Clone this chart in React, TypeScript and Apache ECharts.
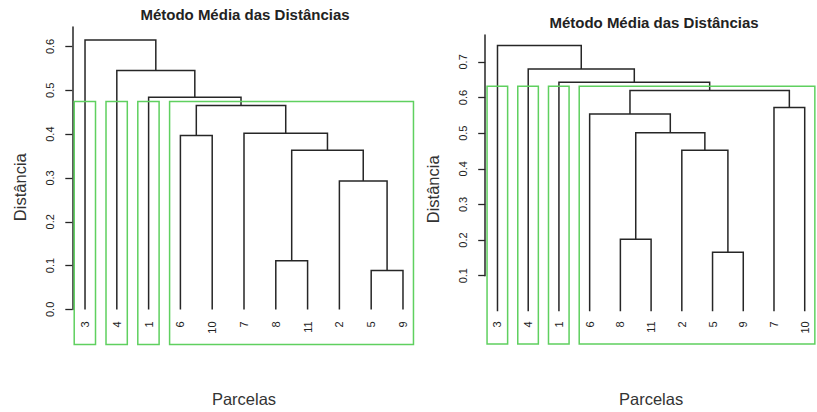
import React, { useEffect, useRef } from 'react';
import * as echarts from 'echarts';

const TITLE = 'Método Média das Distâncias';
const Y_NAME = 'Distância';
const X_NAME = 'Parcelas';
const K_GROUPS = 4;

// Left dendrogram: leaf order and merges [childA, childB, height]
// negative child = leaf label, positive = index of earlier merge (1-based)
const leftLeaves = ['3', '4', '1', '6', '10', '7', '8', '11', '2', '5', '9'];
const leftMerges: [number, number, number][] = [
  [-5, -9, 0.089],
  [-8, -11, 0.111],
  [-2, 1, 0.293],
  [2, 3, 0.363],
  [-6, -10, 0.397],
  [-7, 4, 0.402],
  [5, 6, 0.465],
  [-1, 7, 0.484],
  [-4, 8, 0.545],
  [-3, 9, 0.615],
];
const leftTicks = [0, 0.1, 0.2, 0.3, 0.4, 0.5, 0.6];

// Right dendrogram
const rightLeaves = ['3', '4', '1', '6', '8', '11', '2', '5', '9', '7', '10'];
const rightMerges: [number, number, number][] = [
  [-5, -9, 0.166],
  [-8, -11, 0.202],
  [-2, 1, 0.452],
  [2, 3, 0.501],
  [-6, 4, 0.554],
  [-7, -10, 0.572],
  [5, 6, 0.620],
  [-1, 7, 0.643],
  [-4, 8, 0.680],
  [-3, 9, 0.746],
];
const rightTicks = [0.1, 0.2, 0.3, 0.4, 0.5, 0.6, 0.7];

type Seg = number[];

function buildTree(leaves: string[], merges: [number, number, number][], k: number) {
  const pos: Record<string, number> = {};
  leaves.forEach((l, i) => (pos[l] = i + 1));
  const nodes: { x: number; h: number; lo: number; hi: number }[] = [];
  const ref = (r: number) =>
    r < 0
      ? { x: pos[String(-r)], h: 0, lo: pos[String(-r)], hi: pos[String(-r)] }
      : nodes[r - 1];
  const segs: Seg[] = [];
  merges.forEach(([a, b, h]) => {
    const A = ref(a);
    const B = ref(b);
    segs.push([A.x, A.h, B.x, B.h, h]);
    nodes.push({ x: (A.x + B.x) / 2, h, lo: Math.min(A.lo, B.lo), hi: Math.max(A.hi, B.hi) });
  });
  // cut into k clusters (rect.hclust style)
  const order = merges.map((m, i) => i).sort((i, j) => merges[j][2] - merges[i][2]);
  const top = new Set(order.slice(0, k - 1));
  const boxes: number[][] = [];
  const hs = order.map((i) => merges[i][2]);
  const cut = (hs[k - 2] + hs[k - 1]) / 2;
  top.forEach((i) => {
    [merges[i][0], merges[i][1]].forEach((c) => {
      if (c > 0 && top.has(c - 1)) return;
      const n = ref(c);
      boxes.push([n.lo - 0.34, n.hi + 0.33, cut]);
    });
  });
  return { segs, boxes };
}

const leftTree = buildTree(leftLeaves, leftMerges, K_GROUPS);
const rightTree = buildTree(rightLeaves, rightMerges, K_GROUPS);

const LINE = '#262626';
const GREEN = '#5fd05f';
const FONT = 'Liberation Sans, Arial, sans-serif';

function panel(
  idx: number,
  leaves: string[],
  tree: { segs: Seg[]; boxes: number[][] },
  ticks: number[],
  plotBottom: number,
  yMax: number,
  labelGap: number,
  xNameGap: number,
  yNameShift: number
) {
  const n = leaves.length;
  const xMin = 1 - 0.04 * (n - 1);
  const xMax = n + 0.04 * (n - 1);
  const series: any[] = [
    {
      type: 'custom',
      xAxisIndex: idx,
      yAxisIndex: idx,
      clip: false,
      data: tree.segs,
      renderItem: (params: any, api: any) => {
        const p1 = api.coord([api.value(0), api.value(1)]);
        const p2 = api.coord([api.value(0), api.value(4)]);
        const p3 = api.coord([api.value(2), api.value(4)]);
        const p4 = api.coord([api.value(2), api.value(3)]);
        return {
          type: 'polyline',
          shape: { points: [p1, p2, p3, p4] },
          style: { stroke: LINE, lineWidth: 1.5, fill: 'none' },
        };
      },
    },
    {
      type: 'custom',
      xAxisIndex: idx,
      yAxisIndex: idx,
      clip: false,
      data: tree.boxes,
      renderItem: (params: any, api: any) => {
        const a = api.coord([api.value(0), api.value(2)]);
        const b = api.coord([api.value(1), plotBottom]);
        return {
          type: 'rect',
          shape: { x: a[0], y: a[1], width: b[0] - a[0], height: b[1] - a[1] },
          style: { stroke: GREEN, lineWidth: 1.5, fill: 'none' },
        };
      },
    },
    {
      type: 'custom',
      xAxisIndex: idx,
      yAxisIndex: idx,
      clip: false,
      data: leaves.map((l, i) => [i + 1, 0]),
      renderItem: (params: any, api: any) => {
        const p = api.coord([api.value(0), 0]);
        return {
          type: 'text',
          x: p[0],
          y: p[1] + labelGap,
          rotation: Math.PI / 2,
          style: {
            text: leaves[params.dataIndex],
            align: 'right',
            verticalAlign: 'middle',
            fontSize: 11,
            fontFamily: FONT,
            fill: '#222',
          },
        };
      },
    },
  ];
  const xAxis = {
    gridIndex: idx,
    type: 'value',
    min: xMin,
    max: xMax,
    axisLine: { show: false },
    axisTick: { show: false },
    axisLabel: { show: false },
    splitLine: { show: false },
    name: X_NAME,
    nameLocation: 'middle',
    nameGap: xNameGap,
    nameTextStyle: { fontSize: 16.5, color: '#333', fontFamily: FONT },
  };
  const yAxis = {
    gridIndex: idx,
    type: 'value',
    min: ticks[0],
    max: yMax,
    axisLine: { show: true, onZero: false, lineStyle: { color: LINE, width: 1.5 } },
    axisTick: {
      show: true,
      length: 7,
      customValues: ticks,
      lineStyle: { color: LINE, width: 1.3 },
    },
    axisLabel: {
      customValues: ticks,
      rotate: 90,
      margin: 17,
      fontSize: 11,
      fontFamily: FONT,
      color: '#222',
      formatter: (v: number) => v.toFixed(1),
    },
    splitLine: { show: false },
    name: Y_NAME,
    nameLocation: 'middle',
    nameRotate: 90,
    nameGap: 44,
    nameTextStyle: {
      fontSize: 16.5,
      color: '#333',
      fontFamily: FONT,
      padding: [0, yNameShift * 2, 0, 0],
    },
  };
  return { series, xAxis, yAxis };
}

export default function App() {
  const ref = useRef<HTMLDivElement>(null);
  useEffect(() => {
    if (!ref.current) return;
    const chart = echarts.init(ref.current, null, { renderer: 'svg' });
    const L = panel(0, leftLeaves, leftTree, leftTicks, -0.0803, 0.6444, 12, 80.6, 19);
    const R = panel(1, rightLeaves, rightTree, rightTicks, -0.0919, 0.7755, 10, 114.3, 34);
    chart.setOption({
      animation: false,
      backgroundColor: '#ffffff',
      title: [
        {
          text: TITLE,
          left: 245,
          top: 7,
          textAlign: 'center',
          padding: 0,
          textStyle: { fontSize: 15, fontWeight: 'bold', color: '#222', fontFamily: FONT, lineHeight: 15 },
        },
        {
          text: TITLE,
          left: 654,
          top: 15,
          textAlign: 'center',
          padding: 0,
          textStyle: { fontSize: 15, fontWeight: 'bold', color: '#222', fontFamily: FONT, lineHeight: 15 },
        },
      ],
      grid: [
        { left: 72.3, top: 27, width: 343.4, height: 285.7 },
        { left: 485.2, top: 35, width: 337.3, height: 244 },
      ],
      xAxis: [L.xAxis, R.xAxis],
      yAxis: [L.yAxis, R.yAxis],
      series: [...L.series, ...R.series],
    });
    return () => chart.dispose();
  }, []);
  return (
    <div
      ref={ref}
      style={{ position: 'absolute', left: 0, top: 0, width: 817, height: 412 }}
    />
  );
}
